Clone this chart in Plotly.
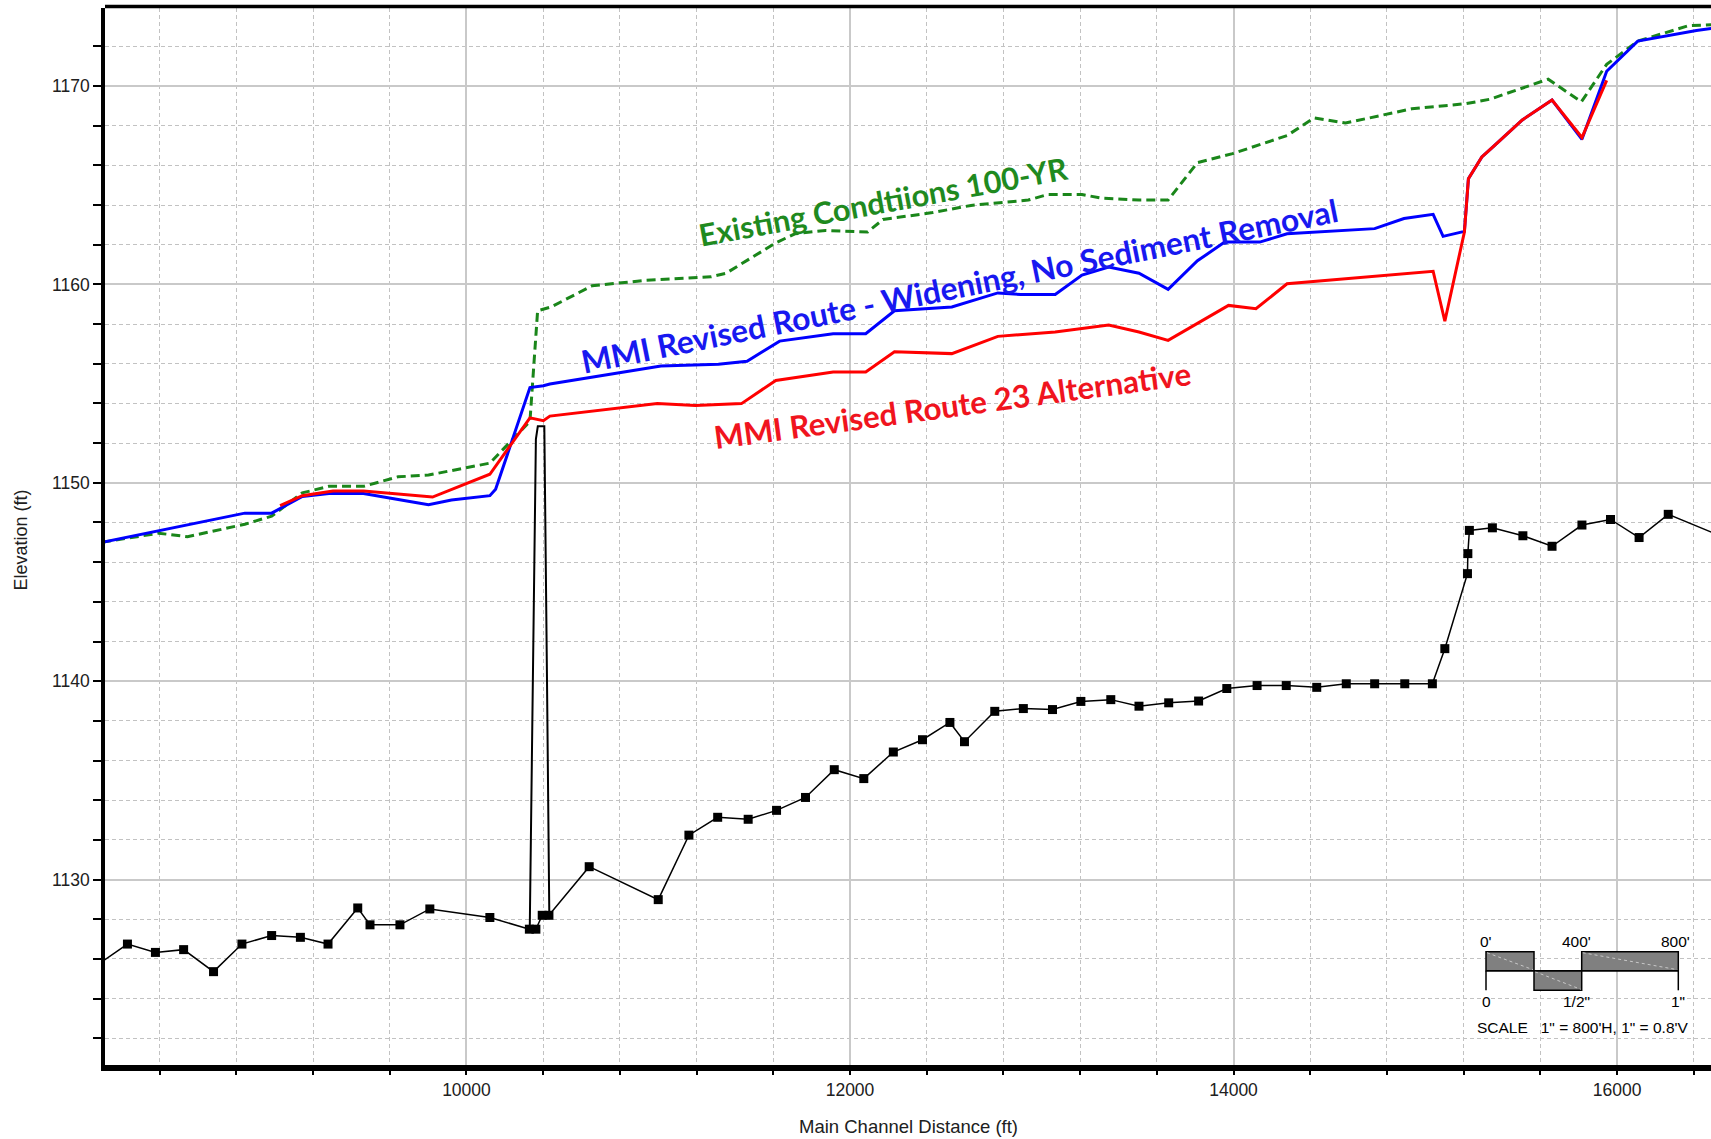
import plotly.graph_objects as go

# ---------------- data: main channel profile (station ft, elevation ft) ----------------
ground_x = [8060, 8232, 8378, 8525, 8681, 8829, 8984, 9134, 9278, 9433,
            9497, 9653, 9809, 10122, 10328, 10362, 10395, 10430, 10640, 11000,
            11160, 11310, 11469, 11617, 11768, 11918, 12072, 12226, 12378, 12521,
            12597, 12755, 12904, 13056, 13204, 13360, 13507, 13662, 13818, 13965,
            14123, 14275, 14434, 14588, 14736, 14893, 15037, 15102, 15220, 15222,
            15230, 15350, 15509, 15661, 15817, 15966, 16115, 16267, 16560]
ground_y = [1125.6, 1126.75, 1126.33, 1126.47, 1125.36, 1126.75, 1127.18, 1127.09, 1126.75, 1128.57,
            1127.72, 1127.72, 1128.52, 1128.09, 1127.50, 1127.50, 1128.2, 1128.2, 1130.65, 1128.99,
            1132.24, 1133.14, 1133.04, 1133.49, 1134.14, 1135.54, 1135.09, 1136.43, 1137.05, 1137.92,
            1136.95, 1138.48, 1138.62, 1138.57, 1138.98, 1139.07, 1138.74, 1138.91, 1139.00, 1139.63,
            1139.78, 1139.78, 1139.69, 1139.87, 1139.87, 1139.87, 1139.87, 1141.64, 1145.42, 1146.43,
            1147.60, 1147.73, 1147.33, 1146.80, 1147.87, 1148.15, 1147.24, 1148.41, 1147.24]

# bridge deck outline
bridge_x = [10330, 10346, 10362, 10372, 10406, 10420, 10432]
bridge_y = [1127.5, 1140.0, 1152.2, 1152.85, 1152.85, 1140.0, 1128.2]

# Existing Conditions 100-YR water surface
existing_x = [8100, 8395, 8545, 8844, 8984, 9144, 9283, 9463, 9643, 9802,
              10122, 10331, 10371, 10441, 10655, 10935, 11274, 11353, 11613, 11713,
              11872, 12092, 12172, 12431, 12631, 12930, 13030, 13210, 13309, 13507,
              13659, 13812, 13995, 14279, 14421, 14584, 14930, 15214, 15336, 15641,
              15814, 15946, 16108, 16373, 16520]
existing_y = [1147.0, 1147.46, 1147.28, 1147.91, 1148.32, 1149.49, 1149.82, 1149.82, 1150.30, 1150.39,
              1150.99, 1153.10, 1158.67, 1158.86, 1159.93, 1160.20, 1160.38, 1160.56, 1162.09, 1162.55,
              1162.72, 1162.64, 1163.27, 1163.62, 1163.98, 1164.25, 1164.53, 1164.53, 1164.35, 1164.25,
              1164.25, 1166.14, 1166.59, 1167.50, 1168.39, 1168.13, 1168.85, 1169.11, 1169.33, 1170.34,
              1169.20, 1171.09, 1172.26, 1173.04, 1173.10]

# MMI Revised Route - Widening, No Sediment Removal
widening_x = [8100, 8844, 8984, 9144, 9283, 9463, 9742, 9802, 9922, 10122,
              10152, 10331, 10401, 10435, 11014, 11314, 11463, 11633, 11912, 12082,
              12232, 12531, 12771, 12890, 13070, 13210, 13349, 13507, 13659, 13812,
              13954, 14137, 14279, 14584, 14736, 14889, 15041, 15093, 15204, 15225,
              15295, 15356, 15506, 15661, 15817, 15946, 16108, 16414, 16520]
widening_y = [1147.0, 1148.47, 1148.47, 1149.31, 1149.46, 1149.46, 1148.99, 1148.90, 1149.13, 1149.35,
              1149.67, 1154.80, 1154.89, 1154.98, 1155.88, 1155.97, 1156.12, 1157.14, 1157.51, 1157.51,
              1158.67, 1158.86, 1159.57, 1159.49, 1159.49, 1160.47, 1160.87, 1160.56, 1159.75, 1161.19,
              1162.13, 1162.13, 1162.55, 1162.72, 1162.81, 1163.32, 1163.53, 1162.42, 1162.67, 1165.33,
              1166.42, 1166.96, 1168.29, 1169.29, 1167.31, 1170.74, 1172.26, 1172.80, 1172.93]

# MMI Revised Route 23 Alternative
route23_x = [9028, 9144, 9304, 9463, 9823, 10122, 10331, 10401, 10435, 10995,
             11194, 11434, 11613, 11912, 12082, 12232, 12531, 12771, 13070, 13349,
             13507, 13659, 13974, 14117, 14279, 15041, 15102, 15204, 15225, 15295,
             15356, 15506, 15661, 15817, 15946]
route23_y = [1148.85, 1149.35, 1149.58, 1149.58, 1149.28, 1150.43, 1153.27, 1153.13, 1153.36, 1153.99,
             1153.90, 1153.99, 1155.16, 1155.58, 1155.58, 1156.60, 1156.51, 1157.38, 1157.60, 1157.95,
             1157.60, 1157.18, 1158.94, 1158.77, 1160.03, 1160.66, 1158.14, 1162.64, 1165.33, 1166.42,
             1166.96, 1168.29, 1169.29, 1167.40, 1170.28]

# ---------------- figure geometry ----------------
W_PX, H_PX = 1711, 1139
L, T, PW, PH = 105, 8, 1606, 1057          # plot area in pixels
X_RANGE = [8115, 16490]
Y_RANGE = [1120.655, 1173.93]


def px(x):
    return (x - L) / PW


def py(y):
    return (T + PH - y) / PH


TICK_FONT = dict(family="Liberation Sans, Arial, sans-serif", size=17.5, color="#202020")
LABEL_FONT = "Lato, Carlito, Calibri, sans-serif"

fig = go.Figure()

fig.add_trace(go.Scatter(
    x=ground_x, y=ground_y, mode="lines+markers",
    line=dict(color="black", width=1.5),
    marker=dict(symbol="square", size=9, color="black"),
    hoverinfo="skip", showlegend=False))

fig.add_trace(go.Scatter(
    x=bridge_x, y=bridge_y, mode="lines",
    line=dict(color="black", width=2),
    hoverinfo="skip", showlegend=False))

fig.add_trace(go.Scatter(
    x=existing_x, y=existing_y, mode="lines",
    line=dict(color="#1a861a", width=3, dash="9px,5px"),
    hoverinfo="skip", showlegend=False))

fig.add_trace(go.Scatter(
    x=widening_x, y=widening_y, mode="lines",
    line=dict(color="#0000ff", width=3),
    hoverinfo="skip", showlegend=False))

fig.add_trace(go.Scatter(
    x=route23_x, y=route23_y, mode="lines",
    line=dict(color="#ff0000", width=3),
    hoverinfo="skip", showlegend=False))

annotations = [
    dict(x=12174, y=1164.18, xref="x", yref="y", text="Existing Condtiions 100-YR",
         textangle=-10.4, showarrow=False,
         font=dict(family=LABEL_FONT, size=30.7, color="#1f8a1f", weight="bold")),
    dict(x=12569, y=1159.94, xref="x", yref="y",
         text="MMI Revised Route - Widening, No Sediment Removal",
         textangle=-11.4, showarrow=False,
         font=dict(family=LABEL_FONT, size=31.8, color="#1818f0", weight="bold")),
    dict(x=12535, y=1153.94, xref="x", yref="y", text="MMI Revised Route 23 Alternative",
         textangle=-7.7, showarrow=False,
         font=dict(family=LABEL_FONT, size=31.3, color="#f0141e", weight="bold")),
    # axis titles
    dict(x=px(20), y=py(540.5), xref="paper", yref="paper", text="Elevation (ft)",
         textangle=-90, showarrow=False, xanchor="center", yanchor="middle",
         font=dict(family="Liberation Sans, Arial, sans-serif", size=18, color="#202020")),
    dict(x=px(908.5), y=py(1126), xref="paper", yref="paper", text="Main Channel Distance (ft)",
         showarrow=False, xanchor="center", yanchor="middle",
         font=dict(family="Liberation Sans, Arial, sans-serif", size=18.5, color="#202020")),
]

# scale bar legend
SCALE_FONT = dict(family="Liberation Sans, Arial, sans-serif", size=15.5, color="black")
for txt, x, y in [("0'", 1486, 941.7), ("400'", 1576, 941.7), ("800'", 1675, 941.7),
                  ("0", 1486, 1001.7), ("1/2\"", 1576, 1001.7), ("1\"", 1678, 1001.7),
                  ("SCALE\u00a0\u00a0 1\" = 800'H, 1\" = 0.8'V", 1582, 1027.3)]:
    annotations.append(dict(x=px(x), y=py(y), xref="paper", yref="paper", text=txt,
                            showarrow=False, xanchor="center", yanchor="middle",
                            font=SCALE_FONT))

shapes = []
for x0, y0, x1, y1 in [(1486, 951.7, 1534, 970.7), (1534, 970.7, 1581.7, 990.3),
                       (1581.7, 951.7, 1678.3, 970.7)]:
    shapes.append(dict(type="rect", xref="paper", yref="paper",
                       x0=px(x0), x1=px(x1), y0=py(y0), y1=py(y1),
                       fillcolor="#808080", line=dict(color="black", width=1.5)))
    shapes.append(dict(type="line", xref="paper", yref="paper",
                       x0=px(x0 + 1), x1=px(x1 - 1), y0=py(y0 + 1), y1=py(y1 - 1),
                       line=dict(color="#c8c8c8", width=1, dash="dot")))
for x0, y0, x1, y1 in [(1486, 970.7, 1678.3, 970.7), (1486, 970.7, 1486, 990.3),
                       (1678.3, 970.7, 1678.3, 990.3)]:
    shapes.append(dict(type="line", xref="paper", yref="paper",
                       x0=px(x0), x1=px(x1), y0=py(y0), y1=py(y1),
                       line=dict(color="black", width=1.5)))
# heavy frame line along the top
shapes.append(dict(type="line", xref="paper", yref="paper", x0=0, x1=1,
                   y0=py(6.5), y1=py(6.5), line=dict(color="black", width=3.5)))

fig.update_layout(
    width=W_PX, height=H_PX,
    margin=dict(l=L, r=W_PX - L - PW, t=T, b=H_PX - T - PH, pad=0),
    paper_bgcolor="white", plot_bgcolor="white",
    showlegend=False,
    annotations=annotations,
    shapes=shapes,
    xaxis=dict(
        range=X_RANGE, tick0=0, dtick=2000, tickformat="d",
        ticks="outside", ticklen=4, tickwidth=1.5, tickcolor="black",
        showline=True, linewidth=5.5, linecolor="black",
        showgrid=True, gridcolor="#c9c9c9", gridwidth=1.5, zeroline=False,
        tickfont=TICK_FONT,
        minor=dict(dtick=400, ticks="outside", ticklen=4, tickwidth=1.5, tickcolor="black",
                   showgrid=True, gridcolor="#c2c2c2", gridwidth=1, griddash="4px,3px"),
    ),
    yaxis=dict(
        range=Y_RANGE, tick0=0, dtick=10, tickformat="d",
        ticks="outside", ticklen=8, tickwidth=1.5, tickcolor="black",
        showline=True, linewidth=3.5, linecolor="black",
        showgrid=True, gridcolor="#c9c9c9", gridwidth=1.5, zeroline=False,
        tickfont=TICK_FONT,
        minor=dict(dtick=2, ticks="outside", ticklen=8, tickwidth=1.5, tickcolor="black",
                   showgrid=True, gridcolor="#c2c2c2", gridwidth=1, griddash="4px,3px"),
    ),
)

fig.write_html("out.html")
